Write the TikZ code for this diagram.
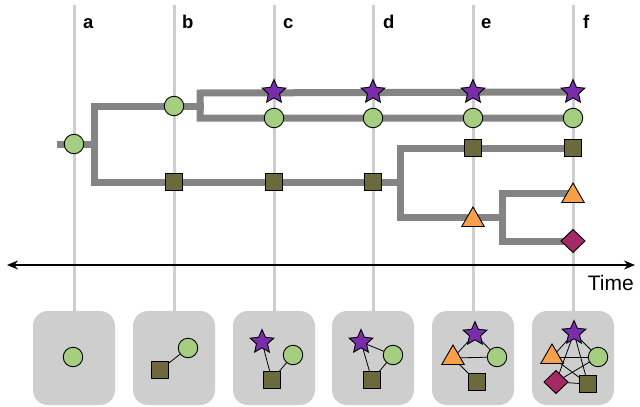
\documentclass[tikz,border=0pt]{standalone}
\usepackage{fontspec}
\setmainfont{Liberation Sans}
\usetikzlibrary{shapes.geometric,arrows.meta}
\definecolor{cgreen}{RGB}{166,206,128}
\definecolor{colive}{RGB}{108,106,60}
\definecolor{cpurple}{RGB}{122,45,170}
\definecolor{corange}{RGB}{247,160,75}
\definecolor{cmagenta}{RGB}{165,42,100}
\definecolor{tline}{RGB}{132,132,132}
\definecolor{vline}{RGB}{206,206,206}
\definecolor{boxfill}{RGB}{206,206,206}
\pgfdeclarelayer{bg}
\pgfsetlayers{bg,main}
\tikzset{
 sh/.style={draw=black, line width=0.9pt, inner sep=0pt, outer sep=0pt},
 circ/.style={sh, circle, fill=cgreen, minimum size=19.5pt},
 sq/.style={sh, rectangle, fill=colive, minimum size=17.5pt},
 starn/.style={sh, star, star points=5, star point ratio=2.15, fill=cpurple, minimum size=25pt},
 tri/.style={sh, regular polygon, regular polygon sides=3, fill=corange, minimum size=26pt},
 dia/.style={sh, diamond, fill=cmagenta, minimum width=24pt, minimum height=23pt},
 tree/.style={draw=tline, line width=7pt, line cap=rect, line join=miter},
 vl/.style={draw=vline, line width=3pt},
 link/.style={draw=black, line width=0.8pt},
 panel/.style={fill=boxfill, rounded corners=15pt},
 lab/.style={font=\bfseries\fontsize{18.5}{18.5}\selectfont, anchor=base west, inner sep=0pt},
 timelab/.style={font=\fontsize{21}{21}\selectfont, anchor=base east, inner sep=0pt}
}
\begin{document}
\begin{tikzpicture}[x=1pt,y=-1pt]
\useasboundingbox (0,0) rectangle (640,407);

% column labels
\node[lab] (la) at (83,28) {a};
\node[lab] (lb) at (182,28) {b};
\node[lab] (lc) at (283,28) {c};
\node[lab] (ld) at (383,28) {d};
\node[lab] (le) at (481,28) {e};
\node[lab] (lf) at (583,28) {f};

% time axis label
\node[timelab] (time) at (634,290) {Time};

% tree nodes
\node[circ] (a1) at (74,144) {};
\node[circ] (b1) at (174,106) {};
\node[sq]   (b2) at (174,182) {};
\node[starn] (c0) at (274,92) {};
\node[circ] (c1) at (274,118) {};
\node[sq]   (c2) at (274,182) {};
\node[starn] (d0) at (373,92) {};
\node[circ] (d1) at (373,118) {};
\node[sq]   (d2) at (373,182) {};
\node[starn] (e0) at (473,92) {};
\node[circ] (e1) at (473,118) {};
\node[sq]   (e2) at (473,148) {};
\node[tri]  (e3) at (473,220) {};
\node[starn] (f0) at (573,92) {};
\node[circ] (f1) at (573,118) {};
\node[sq]   (f2) at (573,148) {};
\node[tri]  (f3) at (573,196) {};
\node[dia]  (f4) at (573,241) {};

% panel nodes
\node[circ] (pa1) at (73,357) {};
\node[sq]   (pb2) at (160,370) {};
\node[circ] (pb1) at (188,348) {};
\node[starn] (pc0) at (262,342) {};
\node[circ] (pc1) at (293,355) {};
\node[sq]   (pc2) at (272,380) {};
\node[starn] (pd0) at (361,342) {};
\node[circ] (pd1) at (393,355) {};
\node[sq]   (pd2) at (372,380) {};
\node[starn] (pe0) at (475,334) {};
\node[tri]  (pe3) at (453,358) {};
\node[circ] (pe1) at (497,357) {};
\node[sq]   (pe2) at (477,382) {};
\node[starn] (pf0) at (574,333) {};
\node[tri]  (pf3) at (552,357) {};
\node[circ] (pf1) at (598,357) {};
\node[dia]  (pf4) at (556,382) {};
\node[sq]   (pf2) at (588,384) {};

% junctions
\coordinate (rootL) at (60,144);
\coordinate (j1) at (94,144);
\coordinate (ju) at (200,106);
\coordinate (jd) at (400,182);
\coordinate (je) at (502,217);

\begin{pgfonlayer}{bg}
 % panels and time lines
 \foreach \i/\x in {a/74,b/174,c/274,d/373,e/473,f/573}{
   \fill[panel] (\x-41,311) rectangle (\x+41,405);
   \draw[vl] (\x,5) -- (\x,311);
 }
 % time axis
 \coordinate (tl) at (7,265);
 \coordinate (tr) at (635,265);
 \draw[line width=1.6pt, {Stealth[length=11pt,width=9pt]}-{Stealth[length=11pt,width=9pt]}] (tl) -- (tr);
 % tree
 \draw[tree] (rootL) -- (j1);
 \draw[tree] (ju) -- (94,106) -- (94,182) -- (jd);
 \draw[tree] (f0.center) -- (200,93) -- (200,118) -- (f1.center);
 \draw[tree] (f2.center) -- (400,148) -- (400,217) -- (je);
 \draw[tree] (f3.center |- 0,193) -- (502,193) -- (502,241) -- (f4.center);
 % links in panels
 \draw[link] (pb2.center) -- (pb1.center);
 \draw[link] (pc0.center) -- (pc2.center);
 \draw[link] (pc1.center) -- (pc2.center);
 \draw[link] (pd0.center) -- (pd1.center);
 \draw[link] (pd0.center) -- (pd2.center);
 \draw[link] (pd1.center) -- (pd2.center);
 \draw[link] (pe0.center) -- (pe3.center);
 \draw[link] (pe0.center) -- (pe1.center);
 \draw[link] (pe3.center) -- (pe1.center);
 \draw[link] (pe3.center) -- (pe2.center);
 \draw[link] (pf0.center) -- (pf3.center);
 \draw[link] (pf0.center) -- (pf1.center);
 \draw[link] (pf0.center) -- (pf4.center);
 \draw[link] (pf0.center) -- (pf2.center);
 \draw[link] (pf3.center) -- (pf1.center);
 \draw[link] (pf3.center) -- (pf2.center);
 \draw[link] (pf4.center) -- (pf1.center);
 \draw[link] (pf4.center) -- (pf2.center);
\end{pgfonlayer}
\end{tikzpicture}
\end{document}
